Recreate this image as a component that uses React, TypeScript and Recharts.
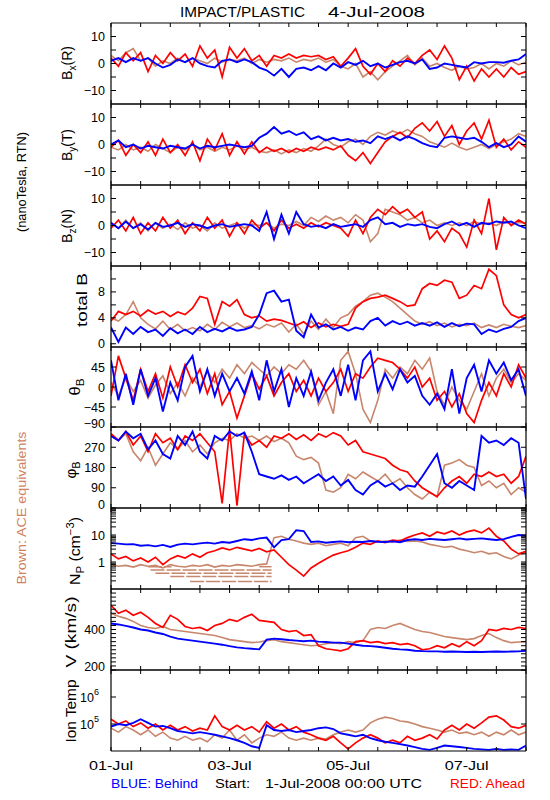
import React from 'react';
import { LineChart, Line, XAxis, YAxis, ReferenceLine } from 'recharts';

// time axis, hours after 1-Jul-2008 00:00 UTC
const HOURS = [0,3,6,9,12,15,18,21,24,27,30,33,36,39,42,45,48,51,54,57,60,63,66,69,72,75,78,81,84,87,90,93,96,99,102,105,108,111,114,117,120,123,126,129,132,135,138,141,144,147,150,153,156,159,162,165,168];
const X_TICKS = [0,12,24,36,48,60,72,84,96,108,120,132,144,156,168];
const X_LABELS: Record<number, string> = { 0: '01-Jul', 48: '03-Jul', 96: '05-Jul', 144: '07-Jul' };

// Bx (R), nT
const BX_RED = [2,-1,4,1,4,-3,3,0,4,1,3.5,-1,6.5,2,5,-5,6,2,5.5,1,3,-1,3,2,3.5,2,3,2.5,3,1.5,2.5,-1,2,5.5,-1,-4,0,-3,1,-1,2,0,3,5,1.5,6.5,2,-6,-1,-6.5,-2,-5,-2,-5,-1.5,-4,-3];
const BX_BLUE = [1,2,0.5,2,1,2,0,-1.5,-0.5,1.5,0.5,2,0,-1,-1.5,1,1.5,0.5,1.5,0.5,-1.5,-2.5,-4.5,-2,-5,-2,-1.5,-2.5,-1,-2.5,0,-1.5,0.5,-0.5,1,-1,0,-1.5,-0.5,0.5,1,0,1.5,-2,-1.5,0,-0.5,-1,-1.5,0.5,0,0.5,0.5,0.3,1,1.5,3.5];
const BX_ACE = [3,1,4,5.5,1,2,-1,1,0,2,0.5,2,1,0,2,0.5,1.5,1,2,0,1.5,0.5,1.5,1,2,0.5,1.5,1,2,0.5,1.5,-1,-2,0,-5,-3,-6,-3,-1,1,3,-0.5,2,-1,0,-1.5,-2.5,-1,-2,-1.5,0,-2,0,-1,1,-0.5,0.5];

// By (T)
const BY_RED = [-1,1.5,-4,0,-3,1,-4,2,-3,0,-4,1,-6,2,-2,4,-4,1,-3.5,1,-3,-1,-2.5,-1.5,-3,-1.5,-2.5,-1,-2,-1,-2,-0.5,-4,-6,-3,-7,-3,1,3,4.5,2.5,6,8,5,8.5,3,7,0,5,8,2,9,-1,2,-2,1,-1];
const BY_BLUE = [0,1.5,-1,0,-1.5,-0.5,-1,-1.5,-0.5,-1,-1.5,0,-1.5,-0.5,-1,-0.5,0,-0.5,-1,-0.5,2.5,4,6.5,4,5,3.5,4.5,2,3,1.5,2.5,1.5,2,1,1.5,0.5,3,2,3,1.5,3,2,0.5,-0.5,-1,2.5,3,2.5,2,2.5,1,-1,0.5,-1,0,3,1];
const BY_ACE = [-1,-2,0,-2,-1,-2.5,0,-1.5,-3,-1,-2,0,-2,-1,-2.5,-1,-2,-0.5,-2,-1,-2.5,-3,-2,-3.5,-2,-3,-1.5,-2.5,-0.5,2,0,-1,1,2,0,3,4.5,3.5,5,4,5.5,4,3,1,0,-1,0.5,-1,-2,-1,0,-1.5,0,1,2,4,3];

// Bz (N)
const BZ_RED = [-1,2,-2,3,-3,1,-2,3,-1,2,-3,1,-2,3,-1,2,-4,1,-3,2,-1,1,-2,2,-1,0.5,-1,1,-0.5,1,0,-1,-4,2,-3,3,6,4,7,4.5,6,3,5,-5,-2,-6,-1,-3,-8,2,-3,10,-9,3,0,2,0.5];
const BZ_BLUE = [1,-1,1.5,-1,0.5,-1.5,1,-0.5,0,1,-0.5,0.5,0,-1,0,0.5,-0.5,0,0.5,0,-2,5,-5,4,-3,5,0.5,-0.5,0,-1,0.5,-0.5,0,0.5,-0.5,2,3,0.5,1,-0.5,0.5,0,0.5,-0.5,-1,0.5,1.5,0,1,-0.5,1,0.5,1.5,1,1.5,0,-1];
const BZ_ACE = [1,-1,2,-1,1,-2,1,-1,0.5,-1.5,1,-1,0,-2,1,-1,0,1,-1,0.5,0,1,-1,0.5,0,1.5,0,3,1.5,3.5,2,3,1,4,2,-6,-3,6,5,4,2,3,1,2,0,1,0,1,0,1.5,0.5,1,0,1.5,0.5,1,1];

// total B
const BT_RED = [3.5,5,4.5,5,4.3,5.2,4.6,5,4.2,4.9,4.5,5.5,7.3,7,3,6.5,5.8,6.8,4.5,4,4.3,3.5,3.8,3.6,3.2,2.8,3.4,2.5,3.2,2.6,3,2.7,3,5.5,6.5,7,7.2,7.5,7,6.5,5.8,6,8.5,9.3,9,9.8,9.5,7,7.5,9,8.5,11.5,10.5,6,4.5,4,4.5];
const BT_BLUE = [2.5,0.3,2.5,1.5,2.6,1.8,2.2,1.2,2.4,1.6,2.2,1.5,2.6,1.8,2.3,1.9,2.5,2,2.2,2.6,4.5,7.8,8.2,6.5,6.8,2,1,4.5,2.5,3,2.2,2.6,2,2.5,2.2,3.5,4,2.8,3.5,3,3.4,2.8,3.2,2.8,3.3,2.6,3.2,2.7,3.1,3,1.5,2.2,1.8,2.3,2.6,3.5,4];
const BT_ACE = [4,3.5,4.5,6.5,4,3,2.3,3.5,2.2,3,2,2.5,2,3,2.2,3.3,2.6,3.2,2.5,2.8,2.3,3,2.6,3.2,1.8,3,1.5,3.5,2.2,3.8,2.5,4,4.5,5.8,6.5,7.5,7.8,7.2,6.5,5.5,4.5,3.5,3,3.4,2.8,3.2,2.6,3,2.8,3.2,2.5,2.9,2.5,3,2.7,2.5,2.8];

// theta B, degrees
const TH_RED = [-20,70,20,-30,40,-10,30,-25,45,0,50,10,40,-15,30,-40,-10,-70,-20,30,-5,25,-20,10,30,-10,15,-20,20,-10,10,40,-10,30,20,45,65,60,55,40,20,45,0,20,-30,-10,-45,-15,-60,-80,-30,10,-20,30,0,50,20];
const TH_BLUE = [60,-30,30,-40,40,-20,20,-55,10,-30,45,70,-10,40,-20,30,-10,20,-15,35,-30,60,-10,40,-45,20,-20,35,-30,10,40,-20,50,-30,60,80,-10,30,-5,40,10,25,-20,-40,-15,-50,40,-60,20,50,-10,60,30,55,15,40,-20];
const TH_ACE = [10,-20,20,-10,15,-25,5,25,-15,10,-20,20,0,35,10,40,20,50,30,55,40,25,45,30,50,40,60,35,-40,-10,-60,60,80,30,-50,-80,-30,40,20,45,30,60,40,65,-10,-40,0,-30,-50,-10,30,-20,20,40,10,30,15];

// phi B, degrees
const PH_RED = [330,300,340,280,320,250,330,290,310,260,320,300,330,290,250,20,350,10,330,280,300,270,320,310,330,305,325,300,330,315,335,320,280,300,250,240,230,220,190,170,160,120,90,70,50,90,120,140,110,150,140,160,140,150,110,140,230];
const PH_BLUE = [320,300,340,310,330,260,300,240,220,320,280,340,250,220,320,300,340,320,335,250,150,140,130,145,125,140,110,130,150,120,140,100,125,80,60,100,120,95,110,80,100,95,140,190,240,110,90,120,100,80,320,290,300,280,310,290,40];
const PH_ACE = [320,300,330,250,210,270,190,240,290,260,300,250,280,240,290,310,300,330,310,320,300,320,295,310,290,230,215,225,200,80,70,90,150,130,160,140,120,150,110,130,90,60,40,70,50,190,200,215,190,180,100,120,90,110,60,90,70];

// proton density, cm^-3
const NP_RED = [2,1.3,1.6,1.1,1.4,1,1.5,0.8,1.3,1.7,1.4,2,1.5,2.2,2.6,3.3,2.8,3.5,3,2.6,3.2,2.4,2.8,1.5,0.8,0.5,0.3,0.6,0.9,1.3,1.8,2.2,2.6,3.5,5,4.5,6,5.2,6.5,6,8,10,12,9,13,11,14,10,13,15,12,18,9,6,3,2,2.5];
const NP_BLUE = [5,4.8,4.5,4.6,4,4.2,3.8,4.3,3.6,4.4,4.8,4.5,4.9,5.2,4.8,5.5,5.2,6,7,6.5,7.5,8,3.5,6.5,7,15,14,5.5,5.8,5.2,5.5,5.8,5.4,5.6,5.5,6,5.6,5.5,5.8,5.4,6.5,7,6.5,7.2,6.8,6.5,7,7.5,6.8,7.2,7.5,7,6.5,7,8.5,10,9.5];
const NP_ACE = [0.8,0.7,0.75,0.65,0.8,0.7,0.75,0.6,0.8,0.7,0.65,0.75,0.7,0.8,0.65,0.75,0.7,0.8,0.75,0.7,0.8,0.85,8,9,7,6,5,4.5,5,4,4.5,5,4,8,9,6,5.5,6,5.5,6.5,5.8,6,5.5,4.5,4,3.5,3.8,3,2.6,2.2,2.5,2,2.2,1.6,1.3,1.8,2.2];
// ACE density quantisation floor rows: [level, startHour, endHour]
const NP_ACE_FLOOR: [number, number, number][] = [[0.67,15,24.5],[0.67,60,65],[0.51,16,65],[0.38,18,65],[0.29,24,65],[0.19,32,65]];

// speed, km/s
const V_RED = [520,480,495,470,485,460,430,410,470,450,415,405,410,395,420,430,450,440,460,475,445,440,435,400,390,395,370,375,320,305,300,295,305,340,345,335,340,330,335,325,330,320,300,305,320,310,330,315,340,320,345,400,395,405,400,410,405];
const V_BLUE = [430,425,418,410,400,395,385,378,365,355,350,345,340,335,330,325,318,312,308,305,302,350,355,352,348,345,342,345,340,338,335,335,330,325,320,318,315,310,305,302,300,295,293,292,292,290,291,290,289,290,289,290,291,290,291,292,295];
const V_ACE = [480,465,455,440,420,410,405,415,400,395,390,385,380,375,370,360,350,345,340,335,338,345,350,340,335,330,325,320,322,330,335,330,340,335,345,400,410,405,420,430,415,400,390,385,375,365,360,355,350,355,370,380,360,345,335,338,340];

// ion temperature, K
const T_RED = [1.5e5,1.0e5,1.3e5,8e4,1.1e5,7e4,1.0e5,6e4,9e4,6e4,8e4,5.5e4,7e4,6e4,2e5,8e4,6e4,9e4,6e4,8e4,5e4,1.2e5,7e4,1.0e5,6e4,8e4,5e4,4e4,3e4,2.5e4,3.5e4,2e4,1.2e4,2e4,3e4,4e4,3e4,2e4,2.5e4,2e4,3.5e4,2.5e4,3e4,4e4,2.8e4,6e4,9e4,6e4,1e5,7e4,1.1e5,1.8e5,2e5,1.4e5,8e4,7e4,9e4];
const T_BLUE = [8e4,1.0e5,9e4,1.1e5,1.5e5,1.1e5,8e4,8.5e4,7e4,5.5e4,5e4,4.5e4,5e4,4.5e4,4e4,3.5e4,3e4,2.5e4,2e4,1.5e4,1.3e4,9e4,6e4,5.5e4,6e4,5e4,5.5e4,6e4,7e4,7.5e4,6.5e4,4.5e4,4e4,3.5e4,4e4,3e4,2.5e4,2.2e4,2e4,1.8e4,1.6e4,1.4e4,1.2e4,1.1e4,1.3e4,1.6e4,1.5e4,1.4e4,1.3e4,1.2e4,1.15e4,1.1e4,1.2e4,1.1e4,1.15e4,1.1e4,1.6e4];
const T_ACE = [7e4,5e4,8e4,6e4,4e4,6e4,3.5e4,5e4,3e4,2.5e4,3.5e4,2.5e4,3e4,2.2e4,4e4,3e4,6e4,2.5e4,4e4,2e4,3e4,4e4,3.5e4,5e4,3e4,2.5e4,3e4,2.5e4,3e4,2.8e4,4e4,5e4,6e4,5e4,6e4,1.1e5,1.5e5,1.8e5,1.6e5,1.3e5,1.2e5,1.0e5,8e4,7e4,6e4,5e4,6e4,4.5e4,5e4,4e4,5e4,3.5e4,5e4,4e4,6e4,4e4,5e4];

const RED = '#ff0000';
const BLUE = '#0000ff';
const BROWN = '#c8866c';
const BROWN_TEXT = '#d0825f';
const FONT = '"Liberation Sans", Arial, Helvetica, sans-serif';

const PANEL_EDGES = [23, 104, 185, 266, 347, 427, 508, 589, 670, 751];
const PLOT_LEFT = 111;
const PLOT_RIGHT = 526;

type Panel = {
  id: string;
  red: number[];
  blue: number[];
  ace: number[];
  domain: [number, number];
  log?: boolean;
  ticks: number[];
  labels: number[];
  pow?: boolean;
};

const PANELS: Panel[] = [
  { id: 'bx', red: BX_RED, blue: BX_BLUE, ace: BX_ACE, domain: [-15, 15], ticks: [-10, -5, 0, 5, 10], labels: [-10, 0, 10] },
  { id: 'by', red: BY_RED, blue: BY_BLUE, ace: BY_ACE, domain: [-15, 15], ticks: [-10, -5, 0, 5, 10], labels: [-10, 0, 10] },
  { id: 'bz', red: BZ_RED, blue: BZ_BLUE, ace: BZ_ACE, domain: [-15, 15], ticks: [-10, -5, 0, 5, 10], labels: [-10, 0, 10] },
  { id: 'bt', red: BT_RED, blue: BT_BLUE, ace: BT_ACE, domain: [-0.5, 12], ticks: [0, 2, 4, 6, 8, 10], labels: [0, 4, 8] },
  { id: 'th', red: TH_RED, blue: TH_BLUE, ace: TH_ACE, domain: [-90, 90], ticks: [-90, -45, 0, 45], labels: [-90, -45, 0, 45] },
  { id: 'ph', red: PH_RED, blue: PH_BLUE, ace: PH_ACE, domain: [0, 360], ticks: [0, 90, 180, 270], labels: [0, 90, 180, 270] },
  { id: 'np', red: NP_RED, blue: NP_BLUE, ace: NP_ACE, domain: [0.1, 100], log: true, ticks: [0.2,0.3,0.4,0.5,0.6,0.7,0.8,0.9,1,2,3,4,5,6,7,8,9,10,20,30,40,50,60,70,80,90], labels: [1, 10] },
  { id: 'v', red: V_RED, blue: V_BLUE, ace: V_ACE, domain: [200, 600], ticks: [200,220,240,260,280,300,320,340,360,380,400,420,440,460,480,500,520,540,560,580], labels: [200, 400] },
  { id: 't', red: T_RED, blue: T_BLUE, ace: T_ACE, domain: [1e4, 1e7], log: true, ticks: [1e5, 1e6], labels: [1e5, 1e6], pow: true },
];

const fmtNum = (v: number) => (v < 0 ? '\u2212' + Math.abs(v) : String(v));

function makeYTick(labels: number[], min: number, pow?: boolean) {
  return (p: any) => {
    const v = p.payload ? p.payload.value : null;
    if (v == null || !labels.some((l) => Math.abs(l - v) < 1e-9 * Math.max(1, Math.abs(l)))) return <g />;
    if (pow) {
      const e = Math.round(Math.log10(v));
      return (
        <text x={p.x - 6} y={p.y} dy={5} textAnchor="end" fontSize={12.5} fontFamily={FONT} fill="#000">
          10<tspan dy={-7} fontSize={9}>{e}</tspan>
        </text>
      );
    }
    const atBottom = Math.abs(v - min) < 1e-9;
    return (
      <text x={p.x} y={p.y} dy={atBottom ? 1 : 4.5} textAnchor="end" fontSize={12.5} fontFamily={FONT} fill="#000">
        {fmtNum(v)}
      </text>
    );
  };
}

const XTick = (p: any) => {
  const v = p.payload ? p.payload.value : null;
  const lab = X_LABELS[v as number];
  if (!lab) return <g />;
  return (
    <text x={p.x} y={p.y} dy={19} textAnchor="middle" fontSize={13} fontFamily={FONT} fill="#000" textLength={44} lengthAdjust="spacingAndGlyphs">
      {lab}
    </text>
  );
};

function PanelChart({ panel, idx }: { panel: Panel; idx: number }) {
  const top = PANEL_EDGES[idx];
  const bottom = PANEL_EDGES[idx + 1];
  const last = idx === PANELS.length - 1;
  const mt = 8;
  const mb = last ? 30 : 8;
  const height = mt + 1 + (bottom - top) + 1 + mb;
  const data = HOURS.map((h, i) => ({ h, red: panel.red[i], blue: panel.blue[i], ace: panel.ace[i] }));
  const scale = panel.log ? 'log' : 'linear';
  return (
    <div style={{ position: 'absolute', left: 0, top: top - mt - 1, width: 550, height }}>
      <LineChart width={550} height={height} data={data} margin={{ top: mt, bottom: mb, left: PLOT_LEFT - 1, right: 550 - PLOT_RIGHT - 1 }}>
        <XAxis xAxisId="b" dataKey="h" type="number" domain={[0, 168]} ticks={X_TICKS} allowDataOverflow height={1}
          orientation="bottom" tickSize={-4} tickMargin={4} interval={0}
          axisLine={{ stroke: '#000', strokeWidth: 1.2 }} tickLine={{ stroke: '#000' }}
          tick={last ? XTick : () => <g />} />
        <XAxis xAxisId="t" dataKey="h" type="number" domain={[0, 168]} ticks={X_TICKS} allowDataOverflow height={1}
          orientation="top" tickSize={-4} interval={0}
          axisLine={{ stroke: '#000', strokeWidth: 1.2 }} tickLine={{ stroke: '#000' }} tick={() => <g />} />
        <YAxis yAxisId="l" type="number" scale={scale} domain={panel.domain} ticks={panel.ticks} allowDataOverflow width={1}
          orientation="left" tickSize={-5} tickMargin={11} interval={0}
          axisLine={{ stroke: '#000', strokeWidth: 1.2 }} tickLine={{ stroke: '#000' }}
          tick={makeYTick(panel.labels, panel.domain[0], panel.pow)} />
        <YAxis yAxisId="r" type="number" scale={scale} domain={panel.domain} ticks={panel.ticks} allowDataOverflow width={1}
          orientation="right" tickSize={-5} interval={0}
          axisLine={{ stroke: '#000', strokeWidth: 1.2 }} tickLine={{ stroke: '#000' }} tick={() => <g />} />
        <Line xAxisId="b" yAxisId="l" dataKey="ace" type="linear" stroke={BROWN} strokeWidth={1.6} dot={false} isAnimationActive={false} />
        {panel.id === 'np' && NP_ACE_FLOOR.map(([lvl, a, b], k) => (
          <ReferenceLine key={k} xAxisId="b" yAxisId="l" segment={[{ x: a, y: lvl }, { x: b, y: lvl }]}
            stroke={BROWN} strokeWidth={1.5} strokeDasharray="14 2" ifOverflow="visible" />
        ))}
        <Line xAxisId="b" yAxisId="l" dataKey="red" type="linear" stroke={RED} strokeWidth={1.7} dot={false} isAnimationActive={false} />
        <Line xAxisId="b" yAxisId="l" dataKey="blue" type="linear" stroke={BLUE} strokeWidth={1.9} dot={false} isAnimationActive={false} />
      </LineChart>
    </div>
  );
}

function Rot({ x, y, len, children, fill = '#000', size = 14 }: any) {
  return (
    <text transform={`translate(${x},${y}) rotate(-90)`} textAnchor="middle" fontSize={size} fontFamily={FONT} fill={fill}
      textLength={len} lengthAdjust="spacingAndGlyphs">
      {children}
    </text>
  );
}

function Overlay() {
  return (
    <svg width={550} height={800} style={{ position: 'absolute', left: 0, top: 0, pointerEvents: 'none' }}>
      <text x={180} y={17} fontSize={15} fontFamily={FONT} textLength={125} lengthAdjust="spacingAndGlyphs">IMPACT/PLASTIC</text>
      <text x={328} y={17} fontSize={15} fontFamily={FONT} textLength={97} lengthAdjust="spacingAndGlyphs">4-Jul-2008</text>

      <Rot x={26} y={182} len={100} size={13}>(nanoTesla, RTN)</Rot>
      <Rot x={26} y={508} len={153} size={13} fill={BROWN_TEXT}>Brown: ACE equivalents</Rot>

      <Rot x={72} y={63} len={34}>B<tspan dy={4} fontSize={10}>x</tspan><tspan dy={-4}>(R)</tspan></Rot>
      <Rot x={72} y={145} len={32}>B<tspan dy={4} fontSize={10}>y</tspan><tspan dy={-4}>(T)</tspan></Rot>
      <Rot x={72} y={226} len={34}>B<tspan dy={4} fontSize={10}>z</tspan><tspan dy={-4}>(N)</tspan></Rot>
      <Rot x={87} y={300} len={54}>total B</Rot>
      <Rot x={80} y={387} len={17}>θ<tspan dy={4} fontSize={10}>B</tspan></Rot>
      <Rot x={76} y={470} len={17}>φ<tspan dy={4} fontSize={10}>B</tspan></Rot>
      <Rot x={80} y={551} len={68}>
        N<tspan dy={4} fontSize={10}>P</tspan><tspan dy={-4}>{' (cm'}</tspan><tspan dy={-6} fontSize={10}>{'\u22123'}</tspan><tspan dy={6}>)</tspan>
      </Rot>
      <Rot x={76} y={632} len={71}>V (km/s)</Rot>
      <Rot x={76} y={711} len={63}>Ion Temp</Rot>

      <text x={111} y={788} fontSize={13} fontFamily={FONT} fill={BLUE} textLength={87} lengthAdjust="spacingAndGlyphs">BLUE: Behind</text>
      <text x={215} y={788} fontSize={13} fontFamily={FONT} fill="#000" textLength={35} lengthAdjust="spacingAndGlyphs">Start:</text>
      <text x={265} y={788} fontSize={13} fontFamily={FONT} fill="#000" textLength={157} lengthAdjust="spacingAndGlyphs">1-Jul-2008 00:00 UTC</text>
      <text x={450} y={788} fontSize={13} fontFamily={FONT} fill={RED} textLength={75} lengthAdjust="spacingAndGlyphs">RED: Ahead</text>
    </svg>
  );
}

export default function App() {
  return (
    <div style={{ position: 'absolute', left: 0, top: 0, width: 550, height: 800, background: '#fff', overflow: 'hidden' }}>
      {PANELS.map((p, i) => (
        <PanelChart key={p.id} panel={p} idx={i} />
      ))}
      <Overlay />
    </div>
  );
}
